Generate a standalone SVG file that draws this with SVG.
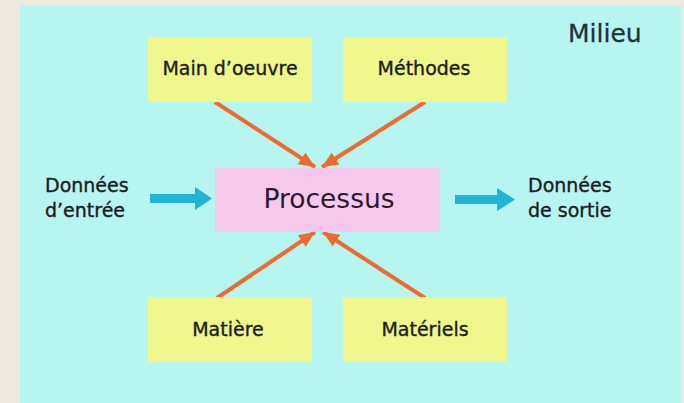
<svg xmlns="http://www.w3.org/2000/svg" width="684" height="403" viewBox="0 0 684 403">
<defs>
<style>
.lbl{font-family:"DejaVu Sans","Verdana",sans-serif;font-size:19px;fill:#1c1c1c;stroke:#1c1c1c;stroke-width:0.35}
.box{fill:#EEF68C}
.orange{stroke:#EE6B2F;stroke-width:4;fill:none;marker-end:url(#ah)}
.blue{fill:#22B3D8}
</style>
<marker id="ah" markerUnits="userSpaceOnUse" markerWidth="18" markerHeight="16" refX="16" refY="7" orient="auto" viewBox="0 0 18 14">
<path d="M0,0 L16,7 L0,14 Z" fill="#EE6B2F"/>
</marker>
</defs>
<rect x="0" y="0" width="684" height="403" fill="#EDE9DF"/>
<rect x="20" y="5" width="661" height="398" fill="#B7F5F0"/>
<text x="568" y="42" font-family="DejaVu Sans, Verdana, sans-serif" font-size="25" fill="#1d3535" stroke="#1d3535" stroke-width="0.3">Milieu</text>
<g id="connectors">
<path class="orange" d="M215,102 L315,167"/>
<path class="orange" d="M425,102 L322,167"/>
<path class="orange" d="M217,298 L315,232"/>
<path class="orange" d="M425,298 L323,232"/>
<path class="blue" d="M150,194 L195,194 L195,187 L212,198.5 L195,210 L195,203 L150,203 Z"/>
<path class="blue" d="M455,195 L497,195 L497,188 L515,199.5 L497,211 L497,204 L455,204 Z"/>
</g>
<g id="main-oeuvre">
<rect class="box" x="148" y="37" width="164" height="65"/>
<text class="lbl" x="230" y="75" text-anchor="middle">Main d’oeuvre</text>
</g>
<g id="methodes">
<rect class="box" x="343" y="37" width="164" height="65"/>
<text class="lbl" x="424" y="75" text-anchor="middle">Méthodes</text>
</g>
<g id="processus">
<rect x="215" y="168" width="225" height="64" fill="#F5C8EC"/>
<text x="329" y="208" text-anchor="middle" font-family="DejaVu Sans, Verdana, sans-serif" font-size="26.5" fill="#2a1a2c">Processus</text>
</g>
<g id="matiere">
<rect class="box" x="148" y="297" width="164" height="65"/>
<text class="lbl" x="228" y="336" text-anchor="middle">Matière</text>
</g>
<g id="materiels">
<rect class="box" x="343" y="297" width="164" height="65"/>
<text class="lbl" x="425" y="336" text-anchor="middle">Matériels</text>
</g>
<g id="entree">
<text class="lbl" x="45" y="192">Données</text>
<text class="lbl" x="45" y="217">d’entrée</text>
</g>
<g id="sortie">
<text class="lbl" x="528" y="192">Données</text>
<text class="lbl" x="528" y="217">de sortie</text>
</g>
</svg>
